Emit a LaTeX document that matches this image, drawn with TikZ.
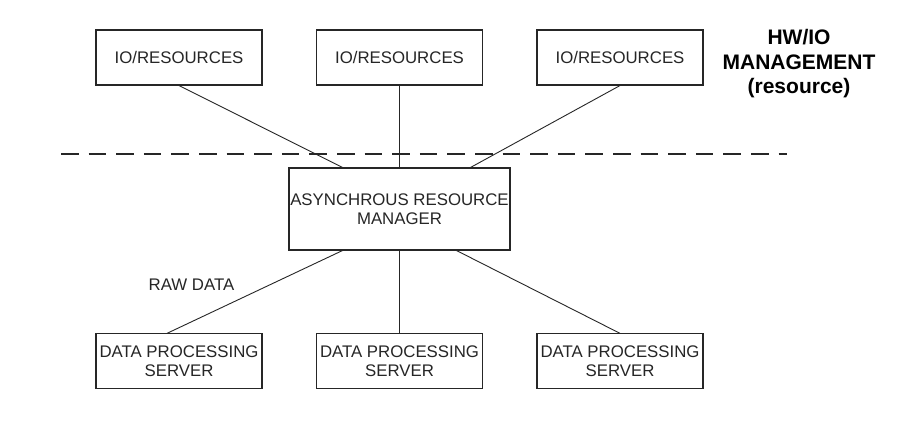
\documentclass[tikz,border=0pt]{standalone}
\usepackage{fontspec}
\setmainfont{Liberation Sans}
\usetikzlibrary{calc}
\definecolor{ink}{HTML}{262626}
\tikzset{
  boxnode/.style={draw=ink, line width=1.1pt, rectangle, inner sep=0pt, align=center,
    text=ink, font=\fontsize{16.8}{19.5}\selectfont, minimum width=166pt, minimum height=55pt},
  armnode/.style={boxnode, minimum width=221pt, minimum height=82pt},
  wire/.style={draw=ink, line width=0.9pt},
  sepline/.style={draw=ink, line width=1.5pt, dash pattern=on 17.6pt off 10pt},
}
\begin{document}
\begin{tikzpicture}[x=1pt,y=-1pt]
\useasboundingbox[fill=white] (0,0) rectangle (915,442);
\node[boxnode] (io1) at (179,57.5) {IO/RESOURCES};
\node[boxnode] (io2) at (399.5,57.5) {IO/RESOURCES};
\node[boxnode] (io3) at (620,57.5) {IO/RESOURCES};
\node[armnode] (arm) at (399.5,209) {ASYNCHROUS RESOURCE\\MANAGER};
\node[boxnode] (dp1) at (179,361.4) {DATA PROCESSING\\SERVER};
\node[boxnode] (dp2) at (399.5,361.4) {DATA PROCESSING\\SERVER};
\node[boxnode] (dp3) at (620,361.4) {DATA PROCESSING\\SERVER};
\node[anchor=north, align=center, inner sep=0pt, text=black, font=\fontsize{21}{24.2}\selectfont\bfseries] (hwio) at (799,29.5) {HW/IO\\MANAGEMENT\\(resource)};
\node[anchor=base, inner sep=0pt, text=ink, font=\fontsize{16.8}{19.5}\selectfont] (raw) at (191.5,290) {RAW DATA};
\coordinate (dl) at (61,154);
\coordinate (dr) at (787,154);
\draw[sepline] (dl) -- (dr);
\draw[wire] (io1.south) -- ([xshift=54pt]arm.north west);
\draw[wire] (io2.south) -- (arm.north);
\draw[wire] (io3.south) -- ([xshift=-40pt]arm.north east);
\draw[wire] ([xshift=54pt]arm.south west) -- ([xshift=-12pt]dp1.north);
\draw[wire] (arm.south) -- (dp2.north);
\draw[wire] ([xshift=-54pt]arm.south east) -- (dp3.north);
\end{tikzpicture}
\end{document}
